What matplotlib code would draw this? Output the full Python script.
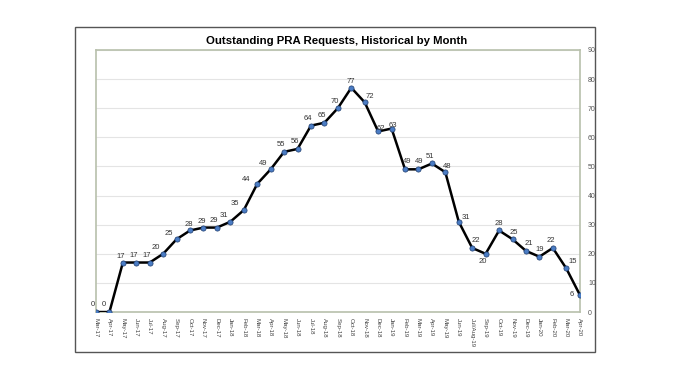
import matplotlib.pyplot as plt
from matplotlib.patches import Rectangle

# Monthly outstanding requests
months = ["Mar-17", "Apr-17", "May-17", "Jun-17", "Jul-17", "Aug-17", "Sep-17",
          "Oct-17", "Nov-17", "Dec-17", "Jan-18", "Feb-18", "Mar-18", "Apr-18",
          "May-18", "Jun-18", "Jul-18", "Aug-18", "Sep-18", "Oct-18", "Nov-18",
          "Dec-18", "Jan-19", "Feb-19", "Mar-19", "Apr-19", "May-19", "Jun-19",
          "Jul/Aug-19", "Sep-19", "Oct-19", "Nov-19", "Dec-19", "Jan-20",
          "Feb-20", "Mar-20", "Apr-20"]
requests = [0, 0, 17, 17, 17, 20, 25, 28, 29, 29, 31, 35, 44, 49, 55, 56, 64,
            65, 70, 77, 72, 62, 63, 49, 49, 51, 48, 31, 22, 20, 28, 25, 21, 19,
            22, 15, 6]
y_ticks = list(range(0, 100, 10))

# label nudges (pixels) where the default above-left spot is not used
label_nudge = {
    "Mar-17": (-3, 8), "Apr-17": (-6, 8), "May-17": (-2, 6), "Aug-17": (-7, 6),
    "Sep-17": (-8, 6), "Oct-17": (-1, 6), "Nov-17": (-2, 6), "Jan-18": (-6, 6),
    "Feb-18": (-9, 7), "Mar-18": (-11, 4), "Apr-18": (-8, 6), "Oct-18": (0, 6),
    "Nov-18": (5, 6), "Dec-18": (3, 3), "Jan-19": (1, 3), "Feb-19": (2, 8),
    "Mar-19": (1, 8), "Apr-19": (-2, 7), "May-19": (2, 6), "Jun-19": (7, 4),
    "Jul/Aug-19": (4, 7), "Sep-19": (-3, -8), "Oct-19": (0, 7), "Nov-19": (1, 7),
    "Dec-19": (3, 7), "Jan-20": (0, 7), "Feb-20": (-2, 7), "Mar-20": (6, 7),
    "Apr-20": (-8, 0),
}

plt.rcParams['font.family'] = ['Liberation Sans', 'DejaVu Sans']

fig = plt.figure(figsize=(6.78, 3.81), dpi=100)

# outer chart frame
fig.patches.append(Rectangle((0.111, 0.076), 0.767, 0.853, transform=fig.transFigure,
                             fill=False, edgecolor="#555555", linewidth=1.0))

ax = fig.add_axes([0.1416, 0.181, 0.7134, 0.688])
x = list(range(len(months)))
ax.plot(x, requests, color="black", linewidth=1.8, zorder=3)
ax.scatter(x, requests, s=14, color="#4a7cc4", edgecolors="#1f3d6e",
           linewidths=0.5, zorder=4)

for i, v in enumerate(requests):
    dx, dy = label_nudge.get(months[i], (-3, 7))
    ax.annotate(str(v), (i, v), xytext=(dx, dy), textcoords="offset pixels",
                ha="center", va="center", fontsize=5.5, color="#333333", zorder=5)

ax.set_xlim(0, len(months) - 1)
ax.set_ylim(0, 90)
ax.set_xticks(x)
ax.set_xticklabels(months, rotation=-90, fontsize=4.4, color="#444444")
ax.yaxis.tick_right()
ax.set_yticks(y_ticks)
ax.tick_params(axis="y", labelsize=5, colors="#555555", length=0, pad=6)
ax.tick_params(axis="x", length=0, pad=4)
ax.grid(axis="y", color="#e4e4e4", linewidth=0.8)
ax.set_axisbelow(True)
for s in ax.spines.values():
    s.set_color("#b8c0ac")
    s.set_linewidth(1.2)

fig.text(0.497, 0.893, "Outstanding PRA Requests, Historical by Month",
         ha="center", va="center", fontsize=8.2, fontweight="bold")

fig.savefig("out.png", dpi=100)
